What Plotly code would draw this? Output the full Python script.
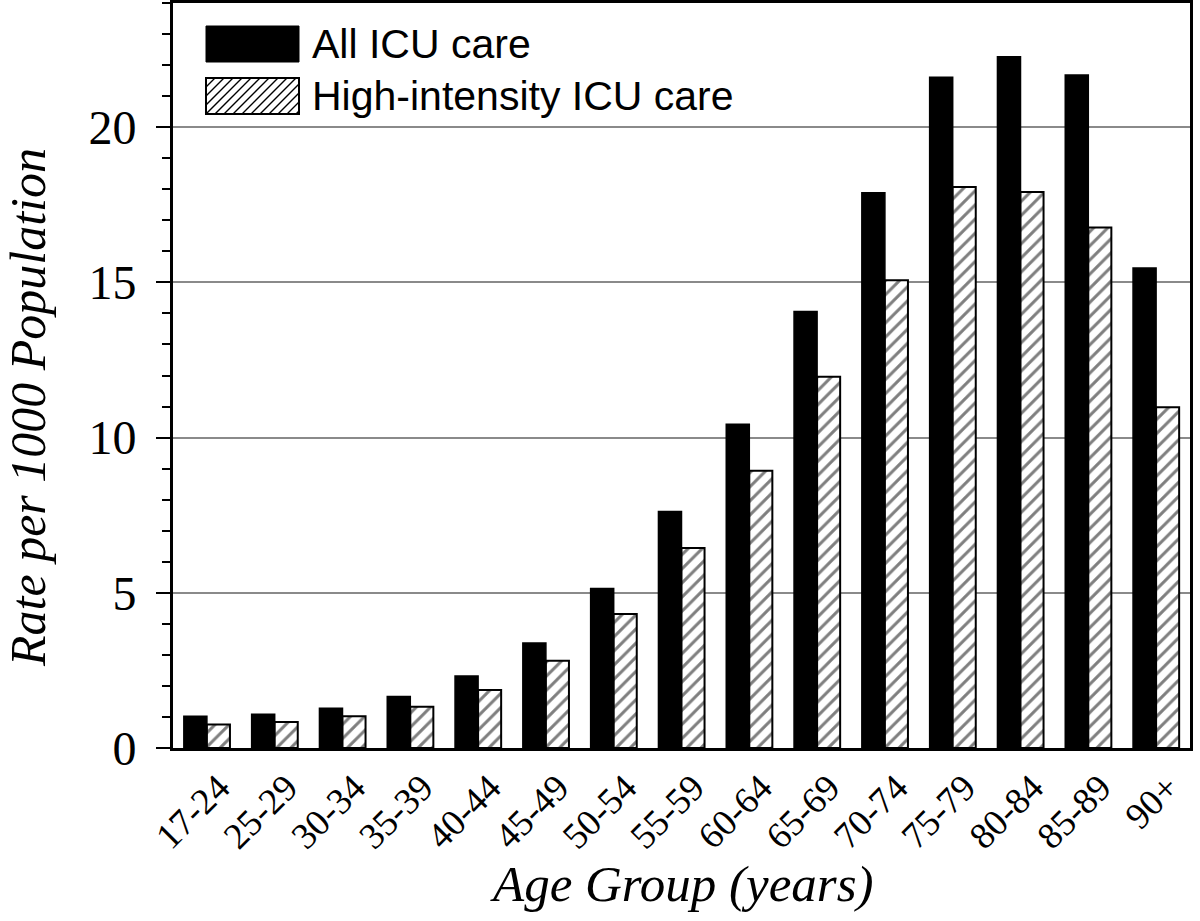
import plotly.graph_objects as go

age_groups = ["17-24", "25-29", "30-34", "35-39", "40-44", "45-49", "50-54", "55-59",
              "60-64", "65-69", "70-74", "75-79", "80-84", "85-89", "90+"]
all_icu = [1.02, 1.09, 1.28, 1.66, 2.32, 3.38, 5.14, 7.62, 10.43, 14.06, 17.89, 21.61, 22.27, 21.68, 15.46]
high_icu = [0.76, 0.84, 1.02, 1.33, 1.87, 2.81, 4.32, 6.44, 8.93, 11.96, 15.07, 18.07, 17.91, 16.77, 10.98]
series_names = ["All ICU care", "High-intensity ICU care"]
y_ticks = [0, 5, 10, 15, 20]

W, H = 1200, 921
L, R, T, B = 173, 10, 3, 173
PW, PH = W - L - R, H - T - B


def px_x(x):
    return (x - L) / PW


def px_y(y):
    return (H - B - y) / PH


fig = go.Figure()
fig.add_trace(go.Bar(
    x=age_groups, y=all_icu, name=series_names[0], showlegend=False,
    marker=dict(color="black", line=dict(color="black", width=1.5)),
))
fig.add_trace(go.Bar(
    x=age_groups, y=high_icu, name=series_names[1], showlegend=False,
    marker=dict(color="white", line=dict(color="black", width=2),
                pattern=dict(shape="/", fgcolor="black", bgcolor="white", size=10, solidity=0.3)),
))

# custom legend (large swatches)
shapes = []
sx0, sx1 = 206, 299
shapes.append(dict(type="rect", xref="paper", yref="paper",
                   x0=px_x(sx0), x1=px_x(sx1), y0=px_y(62), y1=px_y(26),
                   fillcolor="black", line=dict(color="black", width=1)))
hy0, hy1 = 78, 114
hh = hy1 - hy0
path = ""
b = sx0 - hh
while b < sx1:
    tmin = max(0.0, (sx0 - b) / hh)
    tmax = min(1.0, (sx1 - b) / hh)
    if tmin < tmax:
        xa, ya = b + hh * tmin, hy1 - hh * tmin
        xb, yb = b + hh * tmax, hy1 - hh * tmax
        path += f"M{px_x(xa):.5f},{px_y(ya):.5f} L{px_x(xb):.5f},{px_y(yb):.5f} "
    b += 9
shapes.append(dict(type="rect", xref="paper", yref="paper",
                   x0=px_x(sx0), x1=px_x(sx1), y0=px_y(hy1), y1=px_y(hy0),
                   fillcolor="white", line=dict(color="black", width=2)))
shapes.append(dict(type="path", xref="paper", yref="paper", path=path,
                   line=dict(color="black", width=1.4)))

annotations = [
    dict(text=series_names[0], xref="paper", yref="paper", x=px_x(310), y=px_y(44),
         xanchor="left", yanchor="middle", showarrow=False,
         font=dict(family="Liberation Sans, Arial", size=41, color="black")),
    dict(text=series_names[1], xref="paper", yref="paper", x=px_x(310), y=px_y(96),
         xanchor="left", yanchor="middle", showarrow=False,
         font=dict(family="Liberation Sans, Arial", size=41, color="black")),
    dict(text="Rate per 1000 Population", xref="paper", yref="paper", x=px_x(28), y=px_y(408),
         xanchor="center", yanchor="middle", textangle=-90, showarrow=False,
         font=dict(family="Liberation Serif, Times New Roman", size=50, color="black", style="italic")),
    dict(text="Age Group (years)", xref="paper", yref="paper", x=0.5, y=px_y(884),
         xanchor="center", yanchor="middle", showarrow=False,
         font=dict(family="Liberation Serif, Times New Roman", size=51, color="black", style="italic")),
]

fig.update_layout(
    width=W, height=H,
    margin=dict(l=L, r=R, t=T, b=B, autoexpand=False),
    paper_bgcolor="white", plot_bgcolor="white",
    barmode="group", bargap=0.32, bargroupgap=0,
    shapes=shapes, annotations=annotations,
    showlegend=False,
)
fig.update_xaxes(
    type="category", showline=True, linecolor="black", linewidth=3, mirror=True,
    showgrid=False, ticks="", tickangle=-45,
    tickfont=dict(family="Liberation Serif, Times New Roman", size=37, color="black"),
    ticklabelstandoff=0, ticklabelshift=12, automargin=False,
)
fig.update_yaxes(
    range=[0, 24], tickvals=y_ticks, ticktext=[str(v) for v in y_ticks],
    showline=True, linecolor="black", linewidth=3, mirror=True,
    showgrid=True, gridcolor="#8a8a8a", gridwidth=2,
    ticks="outside", ticklen=14, tickwidth=2, tickcolor="black",
    minor=dict(dtick=1, tick0=0, ticks="outside", ticklen=8, tickwidth=2, tickcolor="black", showgrid=False),
    tickfont=dict(family="Liberation Serif, Times New Roman", size=48, color="black"),
    ticklabelstandoff=10, zeroline=False, automargin=False,
)

fig.write_html("out.html", config={"displayModeBar": False},
               post_script="document.body.style.margin='0';")
